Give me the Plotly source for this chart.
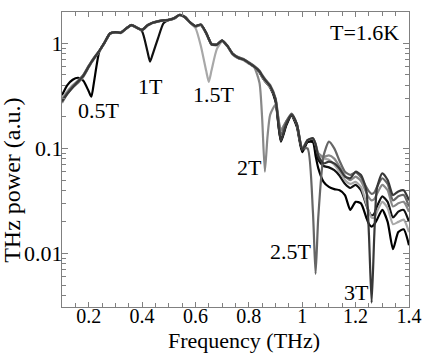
import math
import plotly.graph_objects as go

freq = [0.10, 0.12, 0.14, 0.16, 0.18, 0.20, 0.21, 0.22, 0.24, 0.26,
        0.28, 0.30, 0.32, 0.34, 0.36, 0.38, 0.40, 0.42, 0.43, 0.44,
        0.46, 0.48, 0.50, 0.52, 0.54, 0.56, 0.58, 0.60, 0.62, 0.64,
        0.65, 0.66, 0.68, 0.70, 0.72, 0.74, 0.76, 0.78, 0.80, 0.82,
        0.84, 0.85, 0.86, 0.87, 0.88, 0.90, 0.92, 0.94, 0.96, 0.98,
        1.00, 1.02, 1.04, 1.05, 1.06, 1.08, 1.10, 1.12, 1.14, 1.16,
        1.18, 1.20, 1.22, 1.24, 1.25, 1.26, 1.27, 1.28, 1.30, 1.32,
        1.34, 1.36, 1.38, 1.40]

p_1p5T = [0.30, 0.35, 0.40, 0.44, 0.50, 0.61, 0.67, 0.73, 0.85, 1.02,
          1.24, 1.27, 1.26, 1.38, 1.49, 1.41, 1.34, 1.48, 1.53, 1.57,
          1.62, 1.65, 1.67, 1.72, 1.86, 1.78, 1.57, 1.40, 0.95, 0.55,
          0.43, 0.55, 0.88, 1.04, 0.94, 0.79, 0.73, 0.70, 0.65, 0.60,
          0.53, 0.48, 0.44, 0.41, 0.38, 0.30, 0.15, 0.18, 0.21, 0.17,
          0.10, 0.12, 0.124, 0.11, 0.088, 0.080, 0.078, 0.070, 0.060, 0.050,
          0.046, 0.048, 0.043, 0.030, 0.025, 0.022, 0.022, 0.025, 0.031, 0.027,
          0.019, 0.020, 0.021, 0.016]

p_2T = [0.27, 0.33, 0.38, 0.42, 0.48, 0.59, 0.65, 0.71, 0.84, 1.01,
        1.23, 1.27, 1.25, 1.37, 1.48, 1.40, 1.33, 1.47, 1.52, 1.56,
        1.61, 1.64, 1.66, 1.71, 1.85, 1.77, 1.57, 1.44, 1.49, 1.24,
        1.09, 0.97, 0.96, 1.05, 0.93, 0.78, 0.72, 0.69, 0.64, 0.59,
        0.42, 0.19, 0.060, 0.13, 0.21, 0.26, 0.15, 0.18, 0.21, 0.17,
        0.10, 0.12, 0.124, 0.11, 0.090, 0.083, 0.086, 0.080, 0.067, 0.055,
        0.050, 0.054, 0.049, 0.038, 0.034, 0.032, 0.033, 0.037, 0.045, 0.040,
        0.028, 0.030, 0.031, 0.025]

p_2p5T = [0.29, 0.34, 0.39, 0.44, 0.50, 0.61, 0.67, 0.73, 0.85, 1.03,
          1.25, 1.28, 1.27, 1.39, 1.50, 1.42, 1.35, 1.49, 1.54, 1.58,
          1.63, 1.66, 1.68, 1.74, 1.87, 1.79, 1.59, 1.46, 1.51, 1.26,
          1.11, 0.99, 0.98, 1.07, 0.95, 0.80, 0.74, 0.71, 0.66, 0.61,
          0.55, 0.50, 0.46, 0.43, 0.40, 0.30, 0.135, 0.18, 0.215, 0.17,
          0.10, 0.10, 0.025, 0.0064, 0.022, 0.085, 0.116, 0.10, 0.076, 0.060,
          0.056, 0.059, 0.053, 0.043, 0.039, 0.037, 0.038, 0.043, 0.052, 0.046,
          0.032, 0.035, 0.036, 0.028]

p_3T = [0.28, 0.33, 0.38, 0.43, 0.49, 0.60, 0.66, 0.72, 0.85, 1.02,
        1.24, 1.28, 1.26, 1.38, 1.49, 1.41, 1.34, 1.48, 1.53, 1.57,
        1.62, 1.65, 1.67, 1.73, 1.86, 1.78, 1.58, 1.46, 1.51, 1.26,
        1.10, 0.98, 0.97, 1.06, 0.94, 0.79, 0.73, 0.70, 0.65, 0.60,
        0.54, 0.49, 0.45, 0.42, 0.39, 0.29, 0.118, 0.17, 0.21, 0.17,
        0.097, 0.12, 0.125, 0.11, 0.085, 0.072, 0.075, 0.072, 0.064, 0.054,
        0.052, 0.060, 0.056, 0.040, 0.015, 0.0034, 0.015, 0.042, 0.058, 0.050,
        0.036, 0.039, 0.040, 0.032]

p_1T = [0.28, 0.34, 0.39, 0.43, 0.49, 0.60, 0.66, 0.72, 0.84, 1.02,
        1.24, 1.27, 1.26, 1.38, 1.49, 1.41, 1.30, 0.84, 0.67, 0.79,
        1.12, 1.55, 1.67, 1.72, 1.86, 1.78, 1.58, 1.45, 1.50, 1.25,
        1.10, 0.98, 0.97, 1.06, 0.94, 0.79, 0.73, 0.70, 0.65, 0.60,
        0.53, 0.48, 0.44, 0.41, 0.38, 0.29, 0.12, 0.17, 0.21, 0.165,
        0.095, 0.118, 0.12, 0.10, 0.078, 0.068, 0.066, 0.062, 0.055, 0.046,
        0.042, 0.045, 0.040, 0.029, 0.025, 0.023, 0.024, 0.028, 0.035, 0.031,
        0.022, 0.025, 0.026, 0.020]

p_0p5T = [0.32, 0.40, 0.45, 0.47, 0.44, 0.35, 0.31, 0.43, 0.84, 1.02,
          1.24, 1.27, 1.26, 1.38, 1.49, 1.41, 1.34, 1.48, 1.53, 1.57,
          1.62, 1.65, 1.67, 1.72, 1.86, 1.78, 1.58, 1.45, 1.50, 1.25,
          1.10, 0.98, 0.97, 1.06, 0.94, 0.79, 0.73, 0.70, 0.65, 0.60,
          0.53, 0.48, 0.44, 0.41, 0.38, 0.28, 0.116, 0.165, 0.205, 0.16,
          0.092, 0.115, 0.115, 0.085, 0.065, 0.048, 0.043, 0.041, 0.040, 0.036,
          0.026, 0.031, 0.030, 0.022, 0.019, 0.018, 0.019, 0.021, 0.026, 0.020,
          0.011, 0.016, 0.017, 0.012]

series = [
    ("0.5T", p_0p5T, "#000000"),
    ("1T", p_1T, "#111111"),
    ("1.5T", p_1p5T, "#a8a8a8"),
    ("2T", p_2T, "#888888"),
    ("2.5T", p_2p5T, "#666666"),
    ("3T", p_3T, "#383838"),
]

labels = ["0.5T", "1T", "1.5T", "2T", "2.5T", "3T"]
label_x = [0.238, 0.432, 0.668, 0.803, 0.957, 1.204]
label_y = [0.231, 0.392, 0.329, 0.0664, 0.0105, 0.00428]

x_ticks = [0.2, 0.4, 0.6, 0.8, 1.0, 1.2, 1.4]
x_ticktext = ["0.2", "0.4", "0.6", "0.8", "1", "1.2", "1.4"]
y_ticks = [0.01, 0.1, 1]
y_ticktext = ["0.01", "0.1", "1"]

FONT = "Liberation Serif"
AX = "#808080"

fig = go.Figure()
for name, vals, col in series:
    fig.add_trace(go.Scatter(x=freq, y=vals, mode="lines", name=name,
                             line=dict(color=col, width=2.2, shape="spline", smoothing=0.6),
                             showlegend=False))

for t, xv, yv in zip(labels, label_x, label_y):
    fig.add_annotation(x=xv, y=math.log10(yv), text=t, showarrow=False,
                       font=dict(family=FONT, size=22, color="black"))

fig.add_annotation(x=1.234, y=math.log10(1.28), text="T=1.6K", showarrow=False,
                   font=dict(family=FONT, size=22, color="black"))

fig.add_annotation(xref="paper", yref="paper", x=0.524, y=-0.112, text="Frequency (THz)",
                   showarrow=False, yanchor="middle",
                   font=dict(family=FONT, size=22, color="black"))
fig.add_annotation(xref="paper", yref="paper", x=-0.145, y=0.43, text="THz power (a.u.)",
                   showarrow=False, textangle=-90, xanchor="center", yanchor="middle",
                   font=dict(family=FONT, size=24, color="black"))

minor_y = [m * 10 ** e for e in (-3, -2, -1, 0) for m in range(2, 10)]

fig.update_xaxes(range=[0.1, 1.4], tickvals=x_ticks, ticktext=x_ticktext, automargin=False,
                 ticks="inside", ticklen=5, tickcolor=AX, showline=True, linecolor=AX,
                 linewidth=1, mirror="ticks", showgrid=False, zeroline=False,
                 ticklabelstandoff=-9,
                 tickfont=dict(family=FONT, size=20, color="black"),
                 minor=dict(dtick=0.05, tick0=0.1, ticks="inside", ticklen=4, tickcolor=AX, showgrid=False))
fig.update_yaxes(type="log", range=[-2.509, 0.298], tickvals=y_ticks, ticktext=y_ticktext, automargin=False,
                 ticks="inside", ticklen=6, tickcolor=AX, showline=True, linecolor=AX,
                 linewidth=1, mirror="ticks", showgrid=False, zeroline=False,
                 ticklabelstandoff=-6,
                 tickfont=dict(family=FONT, size=22, color="black"),
                 minor=dict(tickvals=minor_y, ticks="inside", ticklen=4, tickcolor=AX, showgrid=False))

fig.update_layout(width=429, height=363, margin=dict(l=62, r=20, t=12, b=56),
                  paper_bgcolor="white", plot_bgcolor="white",
                  font=dict(family=FONT, color="black"))

fig.write_html("out.html", config={"displayModeBar": False},
               post_script="document.body.style.margin='0';document.body.style.overflow='hidden';")
